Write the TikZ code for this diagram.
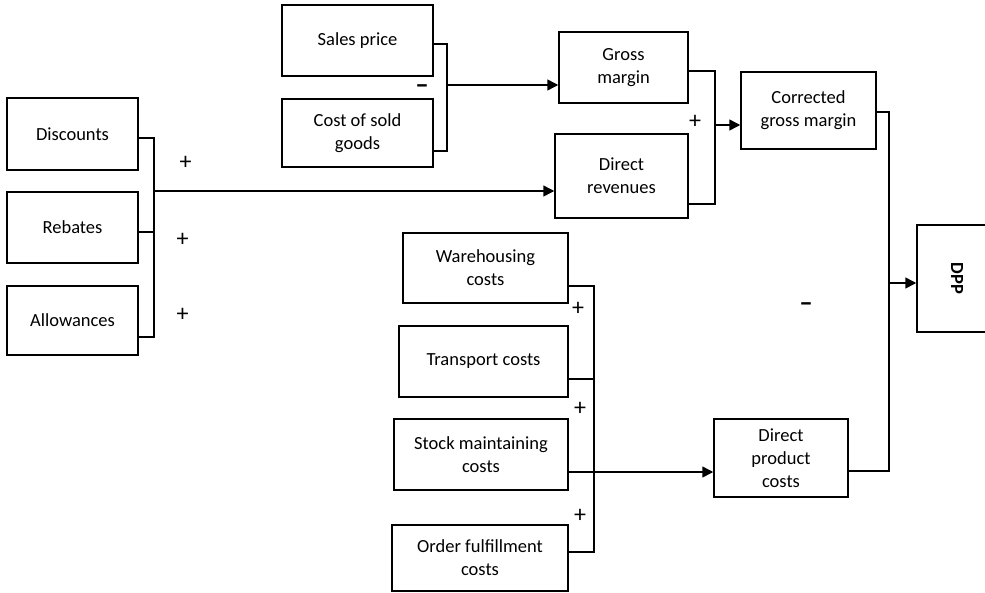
\documentclass[tikz,border=0pt]{standalone}
\usepackage{fontspec}
\setmainfont{Carlito}
\usetikzlibrary{arrows.meta}
\begin{document}
\begin{tikzpicture}[x=1pt,y=1pt,
  box/.style={draw,line width=1.5pt,align=center,inner sep=0pt,font=\fontsize{18.5}{23}\selectfont},
  conn/.style={line width=1.5pt},
  arr/.style={line width=1.5pt,-{Triangle[length=11pt,width=11pt]}},
  sign/.style={font=\fontsize{24}{24}\selectfont,inner sep=0pt},
  minus/.style={font=\fontsize{27}{27}\bfseries\selectfont,inner sep=0pt}]
\useasboundingbox (0,0) rectangle (985,-592);
\begin{scope}
\clip (0,0) rectangle (985,-592);
% boxes
\node[box,minimum width=151,minimum height=71] (sales) at (357.5,-40.5) {Sales price};
\node[box,minimum width=151,minimum height=68] (cost) at (357.5,-133) {Cost of sold\\goods};
\node[box,minimum width=129,minimum height=71] (gross) at (623.5,-67.5) {Gross\\margin};
\node[box,minimum width=133,minimum height=84] (rev) at (621.5,-176) {Direct\\revenues};
\node[box,minimum width=135,minimum height=77] (corr) at (808.5,-110.5) {Corrected\\gross margin};
\node[box,minimum width=78,minimum height=107] (dpp) at (956,-278.5) {};
\node[font=\fontsize{18.5}{22}\bfseries\selectfont,rotate=-90,inner sep=0pt] (dpptext) at (957,-278.5) {DPP};
\node[box,minimum width=131,minimum height=72] (disc) at (72.5,-134) {Discounts};
\node[box,minimum width=131,minimum height=71] (reb) at (72.5,-227.5) {Rebates};
\node[box,minimum width=131,minimum height=69] (allw) at (72.5,-320.5) {Allowances};
\node[box,minimum width=165,minimum height=70] (ware) at (485.5,-268) {Warehousing\\costs};
\node[box,minimum width=169,minimum height=71] (trans) at (483.5,-361.5) {Transport costs};
\node[box,minimum width=174,minimum height=71] (stock) at (481,-454.5) {Stock maintaining\\costs};
\node[box,minimum width=176,minimum height=66] (order) at (480,-558) {Order fulfillment\\costs};
\node[box,minimum width=134,minimum height=78] (dpc) at (781,-458) {Direct\\product\\costs};
% bracket coordinates
\coordinate (b1t) at (447,-44);
\coordinate (b1b) at (447,-151);
\coordinate (b1) at (447,-85);
\coordinate (b2t) at (715,-71);
\coordinate (b2b) at (715,-204);
\coordinate (b2) at (715,-125);
\coordinate (b3t) at (154,-138);
\coordinate (b3m) at (154,-232);
\coordinate (b3b) at (154,-337);
\coordinate (b3) at (154,-191);
\coordinate (b4t) at (594,-286);
\coordinate (b4a) at (594,-379);
\coordinate (b4b) at (594,-552);
\coordinate (b5t) at (889,-112);
\coordinate (b5b) at (889,-471);
\coordinate (b5) at (889,-283);
% connectors
\draw[conn] (sales.east |- b1t) -- (b1t) -- (b1b) -- (cost.east |- b1b);
\draw[arr] (b1) -- (gross.west |- b1);
\draw[conn] (gross.east |- b2t) -- (b2t) -- (b2b) -- (rev.east |- b2b);
\draw[arr] (b2) -- (corr.west |- b2);
\draw[conn] (disc.east |- b3t) -- (b3t) -- (b3b) -- (allw.east |- b3b);
\draw[conn] (reb.east |- b3m) -- (b3m);
\draw[arr] (b3) -- (rev.west |- b3);
\draw[conn] (ware.east |- b4t) -- (b4t) -- (b4b) -- (order.east |- b4b);
\draw[conn] (trans.east |- b4a) -- (b4a);
\draw[arr] (stock.east |- 0,-472) -- (dpc.west |- 0,-472);
\draw[conn] (corr.east |- b5t) -- (b5t) -- (b5b) -- (dpc.east |- b5b);
\draw[arr] (b5) -- (dpp.west |- b5);
% signs
\node[minus] (m1) at (422,-89) {–};
\node[minus] (m2) at (806,-307) {–};
\node[sign] (p1) at (185.5,-163) {+};
\node[sign] (p2) at (182.5,-240) {+};
\node[sign] (p3) at (182.5,-315) {+};
\node[sign] (p4) at (695,-122) {+};
\node[sign] (p5) at (578,-309) {+};
\node[sign] (p6) at (580,-409) {+};
\node[sign] (p7) at (580,-516) {+};
\end{scope}
\end{tikzpicture}
\end{document}
